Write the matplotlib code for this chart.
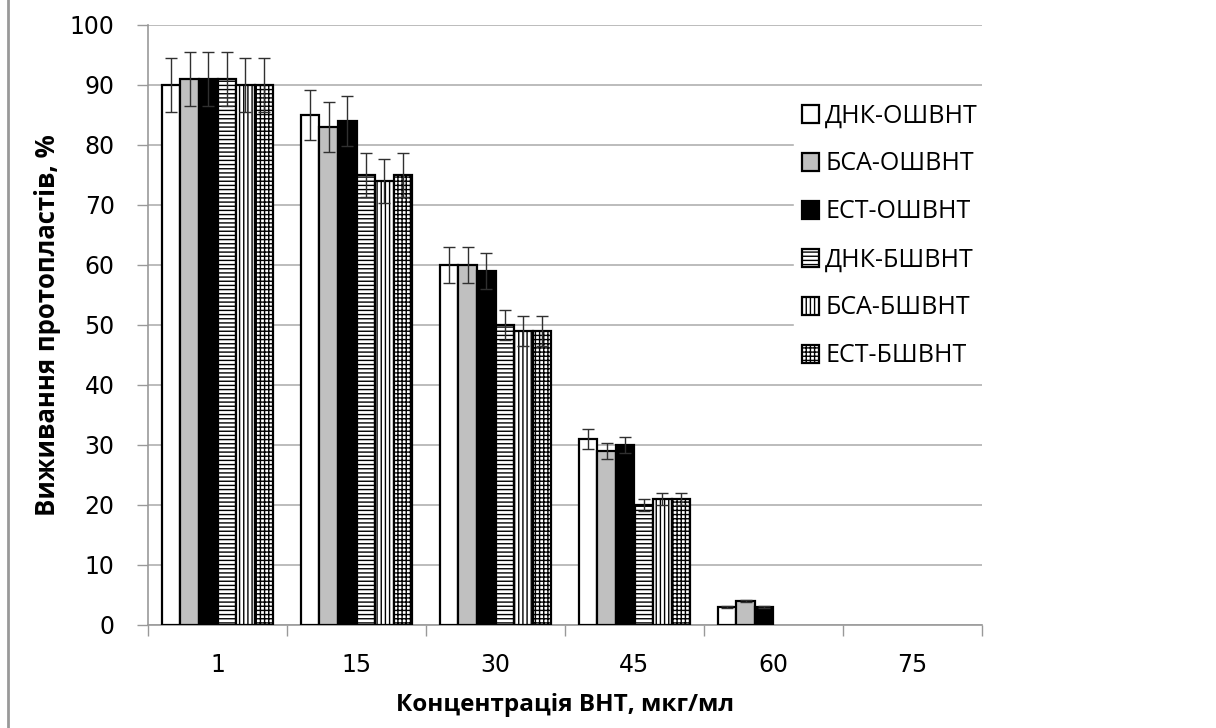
import matplotlib
matplotlib.use("Agg")
import matplotlib.pyplot as plt
import numpy as np
from matplotlib.lines import Line2D

categories = ["1", "15", "30", "45", "60", "75"]
series_names = ["ДНК-ОШВНТ", "БСА-ОШВНТ", "ЕСТ-ОШВНТ", "ДНК-БШВНТ", "БСА-БШВНТ", "ЕСТ-БШВНТ"]
values = [
    [90, 85, 60, 31, 3, 0],
    [91, 83, 60, 29, 4, 0],
    [91, 84, 59, 30, 3, 0],
    [91, 75, 50, 20, 0, 0],
    [90, 74, 49, 21, 0, 0],
    [90, 75, 49, 21, 0, 0],
]
errors = [
    [4.5, 4.2, 3.0, 1.6, 0.2, 0],
    [4.5, 4.2, 3.0, 1.3, 0.2, 0],
    [4.5, 4.2, 3.0, 1.4, 0.2, 0],
    [4.5, 3.7, 2.5, 1.0, 0, 0],
    [4.5, 3.7, 2.5, 1.0, 0, 0],
    [4.5, 3.7, 2.5, 1.0, 0, 0],
]
y_ticks = [0, 10, 20, 30, 40, 50, 60, 70, 80, 90, 100]
x_title = "Концентрація ВНТ, мкг/мл"
y_title = "Виживання протопластів, %"

facecolors = ["white", "#c0c0c0", "black", "white", "white", "white"]
hatches = [None, None, None, "----", "||||", "++++"]

plt.rcParams['font.family'] = ['Open Sans', 'DejaVu Sans']
plt.rcParams['hatch.linewidth'] = 1.0

fig = plt.figure(figsize=(12.16, 7.28), dpi=100)
ax = fig.add_axes([148/1216, 1-625/728, (982-148)/1216, 600/728])

n = len(series_names)
w = 1.0 / (n + 1.5)
x = np.arange(len(categories))
handles = []
for i in range(n):
    pos = x + (i - (n - 1) / 2) * w
    vals = np.array(values[i], dtype=float)
    errs = np.array(errors[i], dtype=float)
    b = ax.bar(pos, vals, width=w, color=facecolors[i], edgecolor="black",
               linewidth=1.6, hatch=hatches[i], zorder=3, label=series_names[i])
    for p, v in zip(b.patches, vals):
        if v == 0:
            p.set_visible(False)
    handles.append(b)
    m = vals > 0
    ax.errorbar(pos[m], vals[m], yerr=errs[m], fmt="none", ecolor="#303030",
                elinewidth=1.0, capsize=4.3, capthick=1.0, zorder=4)

ax.set_xlim(-0.5, len(categories) - 0.5)
ax.set_ylim(0, 100)
ax.set_yticks(y_ticks)
ax.set_xticks(x)
ax.set_xticklabels(categories)
ax.set_xticks(np.arange(-0.5, len(categories), 1.0), minor=True)
ax.tick_params(axis="x", which="major", length=0, pad=20)
ax.tick_params(axis="x", which="minor", length=8, color="#999999", width=1, direction="out")
ax.tick_params(axis="y", which="major", length=8, color="#999999", width=1, pad=16)
for lab in ax.get_xticklabels() + ax.get_yticklabels():
    lab.set_fontfamily(['DejaVu Sans'])
    lab.set_fontsize(17)
ax.grid(axis="y", color="#b0b0b0", linewidth=1.2, zorder=0)
ax.set_axisbelow(True)
for s in ["top", "right"]:
    ax.spines[s].set_visible(False)
for s in ["left", "bottom"]:
    ax.spines[s].set_color("#999999")
    ax.spines[s].set_linewidth(1.2)

ax.set_xlabel(x_title, fontsize=17.5, fontweight="bold")
ax.set_ylabel(y_title, fontsize=18.5, fontweight="bold")
ax.xaxis.set_label_coords((565 - 148) / 834, -(705 - 625) / 600)
ax.yaxis.set_label_coords(-(148 - 48) / 834, 0.5)
ax.xaxis.label.set_va("center")
ax.yaxis.label.set_va("center")

leg = ax.legend(handles=handles, loc="upper left", bbox_to_anchor=(794/1216, 1-96/728),
                bbox_transform=fig.transFigure, frameon=True, fontsize=18,
                handlelength=0.7, handleheight=0.7, handletextpad=0.25,
                labelspacing=0.92, borderaxespad=0, borderpad=0.3)
leg.get_frame().set_edgecolor("white")
leg.get_frame().set_facecolor("white")
leg.get_frame().set_alpha(1.0)
leg.set_zorder(5)

fig.add_artist(Line2D([8/1216, 8/1216], [0, 1], transform=fig.transFigure,
                      color="#999999", linewidth=2))

fig.savefig("out.png", dpi=100)
